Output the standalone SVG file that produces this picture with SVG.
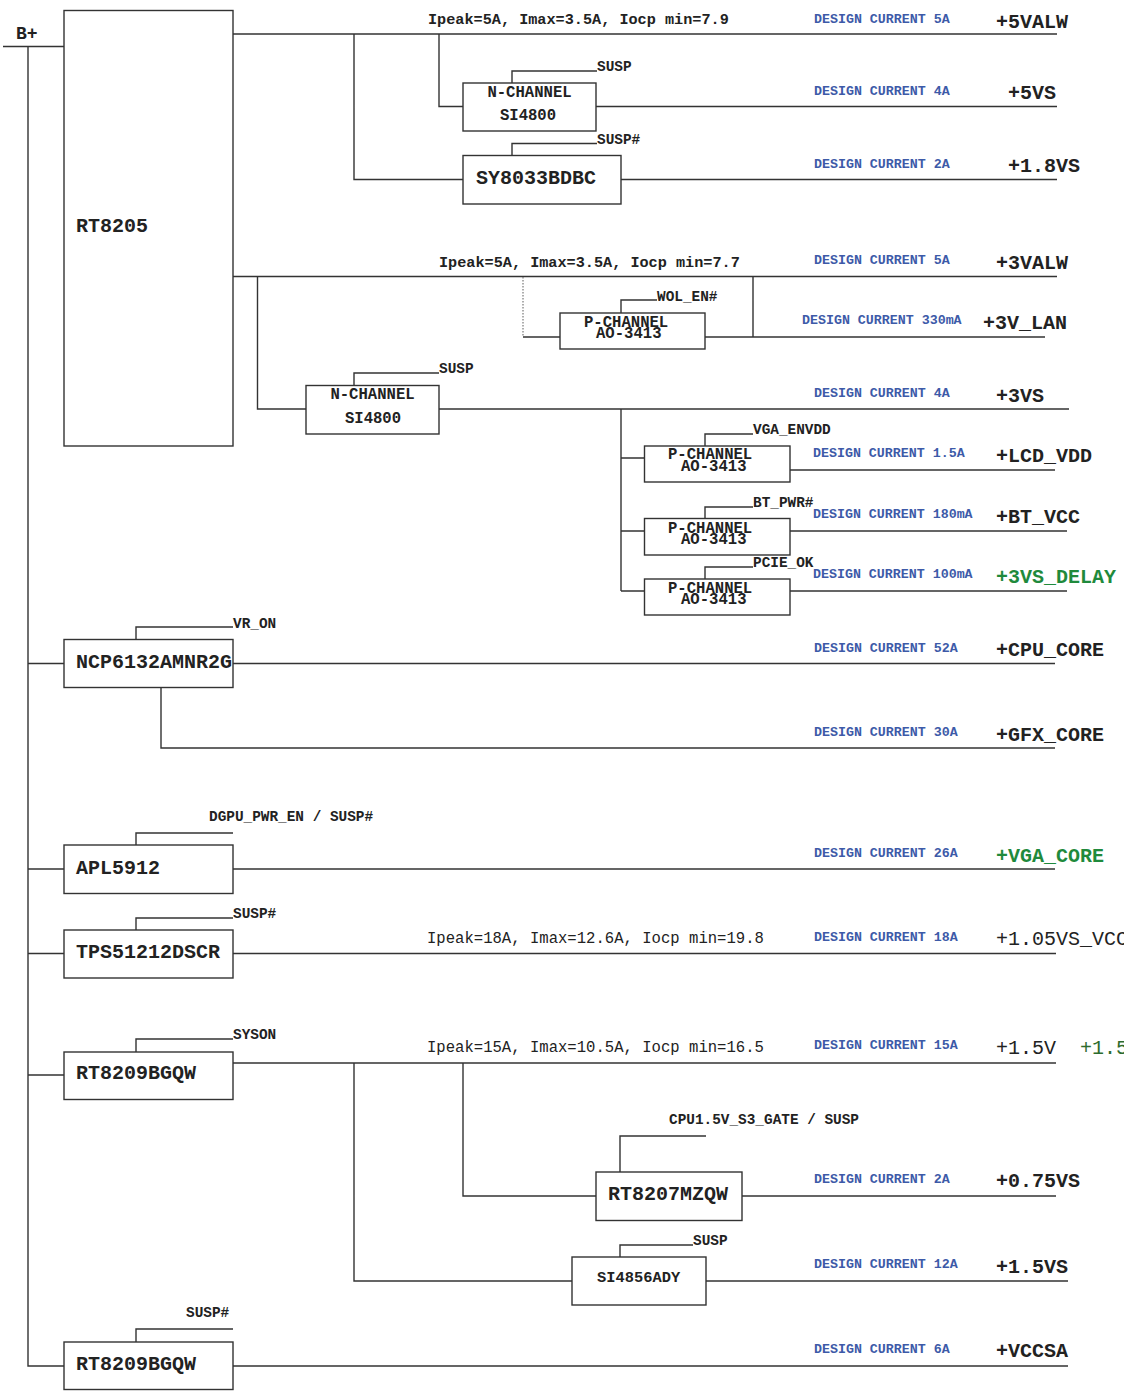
<svg xmlns="http://www.w3.org/2000/svg" width="1124" height="1391" viewBox="0 0 1124 1391">
<style>
.ln{stroke:#333;stroke-width:1.4;fill:none}
.dot{stroke:#777;stroke-width:1.2;stroke-dasharray:1.5,1.5;fill:none}
.box{fill:#fff;stroke:#333;stroke-width:1.4}
text{font-family:"Liberation Mono","DejaVu Sans Mono",monospace;font-weight:bold;fill:#222}
.big{font-size:20px}
.sm{font-size:15.6px}
.ctl{font-size:14.4px}
.dc{font-size:13.3px;fill:#3d5aa8}
.net{font-size:20px}
.ip{font-size:15.2px}
.ipn{font-size:15.6px;font-weight:normal}
.nn{font-weight:normal}
.grn{fill:#1f8a3c}
.dgrn{fill:#2d6b2d}
.mid{text-anchor:middle}
</style>
<rect width="1124" height="1391" fill="#fff"/>
<g id="connectors">
<path class="ln" d="M3 46.5H64M28 46.5V1366H64M28 663.5H64M28 869H64M28 953.5H64M28 1075H64"/>
<path class="ln" d="M233 34H1057M439 34V106.5H463M596 106.5H1057M354 34V179.5H463M621 179.5H1057M512 83V71H597M512 155V143.5H597"/>
<path class="ln" d="M233 276.5H1057M523 337H560M705 337H1045M753 276.5V337M621 313V300H657"/>
<path class="dot" d="M523 277V337"/>
<path class="ln" d="M257.5 276.5V409H306M439 409H1069M354 385V373H439M621 409V591"/>
<path class="ln" d="M621 458H644M790 470H1055M705 446V434H753M621 531H644M790 531H1067M705 518V507H753M621 591H644M790 591H1067M705 579V567H753"/>
<path class="ln" d="M233 663.5H1055M161 688V748H1055M136 639V627H233"/>
<path class="ln" d="M233 869H1055M136 845V833H233"/>
<path class="ln" d="M233 953.5H1056M136 930V918H233"/>
<path class="ln" d="M233 1063H1056M136 1052V1039H233M463 1063V1196H596M742 1196H1056M620 1172V1136H706M354 1063V1281H572M706 1281H1068M620 1257V1245H693"/>
<path class="ln" d="M233 1366H1068M136 1342V1329H233"/>
</g>
<g id="labels">
<text class="big" x="16" y="39" style="font-size:18px">B+</text>
<text class="ip" x="428" y="24">Ipeak=5A, Imax=3.5A, Iocp min=7.9</text>
<text class="ip" x="439" y="267">Ipeak=5A, Imax=3.5A, Iocp min=7.7</text>
<text class="ipn" x="427" y="943">Ipeak=18A, Imax=12.6A, Iocp min=19.8</text>
<text class="ipn" x="427" y="1052">Ipeak=15A, Imax=10.5A, Iocp min=16.5</text>
<text class="ctl" x="597" y="71">SUSP</text>
<text class="ctl" x="597" y="144">SUSP#</text>
<text class="ctl" x="657" y="301">WOL_EN#</text>
<text class="ctl" x="439" y="373">SUSP</text>
<text class="ctl" x="753" y="434">VGA_ENVDD</text>
<text class="ctl" x="753" y="507">BT_PWR#</text>
<text class="ctl" x="753" y="567">PCIE_OK</text>
<text class="ctl" x="233" y="628">VR_ON</text>
<text class="ctl" x="209" y="821">DGPU_PWR_EN / SUSP#</text>
<text class="ctl" x="233" y="918">SUSP#</text>
<text class="ctl" x="233" y="1039">SYSON</text>
<text class="ctl" x="669" y="1124">CPU1.5V_S3_GATE / SUSP</text>
<text class="ctl" x="693" y="1245">SUSP</text>
<text class="ctl" x="186" y="1317">SUSP#</text>
<text class="dc" x="814" y="23">DESIGN CURRENT 5A</text>
<text class="dc" x="814" y="95">DESIGN CURRENT 4A</text>
<text class="dc" x="814" y="168">DESIGN CURRENT 2A</text>
<text class="dc" x="814" y="264">DESIGN CURRENT 5A</text>
<text class="dc" x="802" y="324">DESIGN CURRENT 330mA</text>
<text class="dc" x="814" y="397">DESIGN CURRENT 4A</text>
<text class="dc" x="813" y="457">DESIGN CURRENT 1.5A</text>
<text class="dc" x="813" y="518">DESIGN CURRENT 180mA</text>
<text class="dc" x="813" y="578">DESIGN CURRENT 100mA</text>
<text class="dc" x="814" y="652">DESIGN CURRENT 52A</text>
<text class="dc" x="814" y="736">DESIGN CURRENT 30A</text>
<text class="dc" x="814" y="857">DESIGN CURRENT 26A</text>
<text class="dc" x="814" y="941">DESIGN CURRENT 18A</text>
<text class="dc" x="814" y="1049">DESIGN CURRENT 15A</text>
<text class="dc" x="814" y="1183">DESIGN CURRENT 2A</text>
<text class="dc" x="814" y="1268">DESIGN CURRENT 12A</text>
<text class="dc" x="814" y="1353">DESIGN CURRENT 6A</text>
<text class="net" x="996" y="28">+5VALW</text>
<text class="net" x="1008" y="99">+5VS</text>
<text class="net" x="1008" y="172">+1.8VS</text>
<text class="net" x="996" y="269">+3VALW</text>
<text class="net" x="983" y="329">+3V_LAN</text>
<text class="net" x="996" y="402">+3VS</text>
<text class="net" x="996" y="462">+LCD_VDD</text>
<text class="net" x="996" y="523">+BT_VCC</text>
<text class="net grn" x="996" y="583">+3VS_DELAY</text>
<text class="net" x="996" y="656">+CPU_CORE</text>
<text class="net" x="996" y="741">+GFX_CORE</text>
<text class="net grn" x="996" y="862">+VGA_CORE</text>
<text class="net nn" x="996" y="945">+1.05VS_VCC</text>
<text class="net nn" x="996" y="1054">+1.5V</text>
<text class="net nn dgrn" x="1080" y="1054">+1.5</text>
<text class="net" x="996" y="1187">+0.75VS</text>
<text class="net" x="996" y="1273">+1.5VS</text>
<text class="net" x="996" y="1357">+VCCSA</text>
</g>
<g id="rt8205"><rect class="box" x="64" y="10.5" width="169" height="435.5"/><text class="big" x="76" y="232">RT8205</text></g>
<g id="si4800-a"><rect class="box" x="463" y="83" width="133" height="48"/><text class="sm mid" x="529.5" y="97">N-CHANNEL</text><text class="sm mid" x="528" y="120">SI4800</text></g>
<g id="sy8033"><rect class="box" x="463" y="155.5" width="158" height="48.5"/><text class="big" x="476" y="184">SY8033BDBC</text></g>
<g id="ao3413-lan"><rect class="box" x="560" y="313" width="145" height="36"/><text class="sm" x="584" y="327">P-CHANNEL</text><text class="sm" x="596" y="338">AO-3413</text></g>
<g id="si4800-b"><rect class="box" x="306" y="385.5" width="133" height="48.5"/><text class="sm mid" x="372.5" y="399">N-CHANNEL</text><text class="sm mid" x="373" y="423">SI4800</text></g>
<g id="ao3413-lcd"><rect class="box" x="644.5" y="446" width="145.5" height="36"/><text class="sm" x="668" y="459">P-CHANNEL</text><text class="sm" x="681" y="471">AO-3413</text></g>
<g id="ao3413-bt"><rect class="box" x="644.5" y="518.5" width="145.5" height="36.5"/><text class="sm" x="668" y="533">P-CHANNEL</text><text class="sm" x="681" y="544">AO-3413</text></g>
<g id="ao3413-delay"><rect class="box" x="644.5" y="579" width="145.5" height="36"/><text class="sm" x="668" y="593">P-CHANNEL</text><text class="sm" x="681" y="604">AO-3413</text></g>
<g id="ncp6132"><rect class="box" x="64" y="639.5" width="169" height="48"/><text class="big" x="76" y="668">NCP6132AMNR2G</text></g>
<g id="apl5912"><rect class="box" x="64" y="845" width="169" height="48.5"/><text class="big" x="76" y="874">APL5912</text></g>
<g id="tps51212"><rect class="box" x="64" y="930" width="169" height="48"/><text class="big" x="76" y="958">TPS51212DSCR</text></g>
<g id="rt8209-a"><rect class="box" x="64" y="1052" width="169" height="47.5"/><text class="big" x="76" y="1079">RT8209BGQW</text></g>
<g id="rt8207"><rect class="box" x="596" y="1172" width="146" height="48.5"/><text class="big" x="608" y="1200">RT8207MZQW</text></g>
<g id="si4856"><rect class="box" x="572" y="1257" width="134" height="48"/><text class="sm" x="597" y="1282" style="font-size:15.4px">SI4856ADY</text></g>
<g id="rt8209-b"><rect class="box" x="64" y="1342" width="169" height="47.5"/><text class="big" x="76" y="1370">RT8209BGQW</text></g>
</svg>
